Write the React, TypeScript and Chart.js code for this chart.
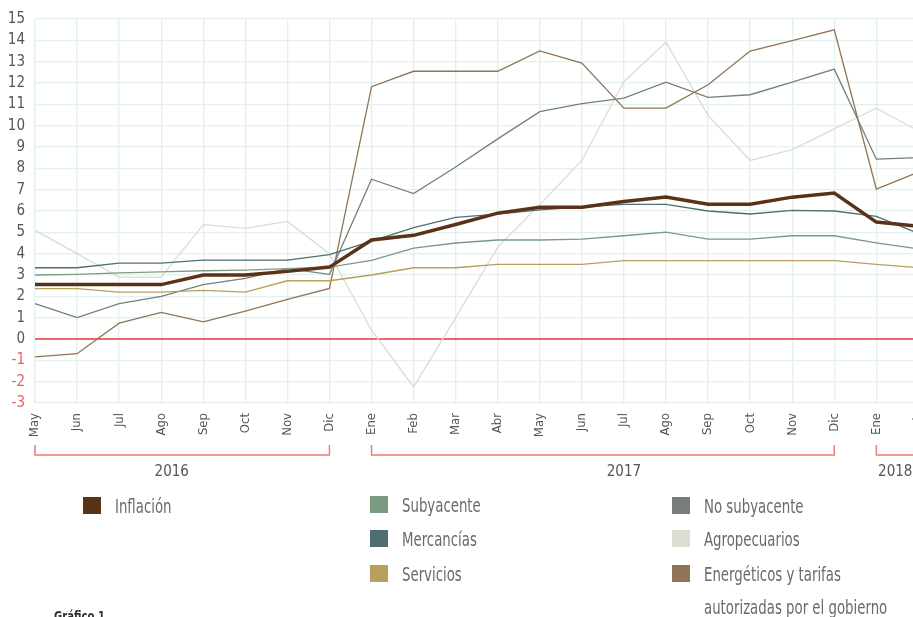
import React, { useEffect, useRef } from "react";
import { Chart, registerables } from "chart.js";

Chart.register(...registerables);

const categories = ["May","Jun","Jul","Ago","Sep","Oct","Nov","Dic","Ene","Feb","Mar","Abr","May","Jun","Jul","Ago","Sep","Oct","Nov","Dic","Ene","Feb"];

const inflacion = [2.55,2.55,2.55,2.55,3.0,3.0,3.17,3.37,4.64,4.86,5.37,5.9,6.18,6.18,6.45,6.65,6.32,6.32,6.65,6.84,5.48,5.28];
const subyacente = [3.0,3.03,3.1,3.15,3.2,3.23,3.3,3.37,3.69,4.26,4.5,4.64,4.64,4.68,4.84,5.01,4.68,4.68,4.84,4.84,4.51,4.22];
const noSubyacente = [1.66,1.0,1.66,2.0,2.55,2.84,3.3,3.03,7.49,6.82,8.06,9.38,10.66,11.03,11.29,12.04,11.33,11.45,12.04,12.65,8.43,8.5];
const mercancias = [3.34,3.34,3.56,3.56,3.7,3.7,3.7,3.95,4.59,5.22,5.7,5.85,6.05,6.2,6.31,6.31,6.0,5.86,6.03,6.0,5.75,4.95];
const agropecuarios = [5.09,4.0,2.9,2.9,5.36,5.19,5.51,4.0,0.41,-2.25,1.0,4.31,6.3,8.37,12.07,13.91,10.48,8.37,8.88,9.85,10.82,9.75];
const servicios = [2.36,2.36,2.2,2.2,2.28,2.2,2.73,2.73,3.0,3.34,3.34,3.5,3.5,3.5,3.67,3.67,3.67,3.67,3.67,3.67,3.5,3.35];
const energeticos = [-0.84,-0.69,0.74,1.25,0.8,1.31,1.86,2.37,11.83,12.55,12.55,12.55,13.5,12.93,10.82,10.82,11.92,13.5,13.99,14.49,7.03,7.82];

const yearLabels = ["2016", "2017", "2018"];
const yearStart = [0, 8, 20];
const yearEnd = [7, 19, 21];

const FONT = "'Liberation Sans Narrow', 'DejaVu Sans Condensed', 'Roboto Condensed', 'Liberation Sans', sans-serif";

const COLORS = {
  inflacion: "#5a3218",
  subyacente: "#7b9a82",
  noSubyacente: "#767e7b",
  mercancias: "#4f6d73",
  agropecuarios: "#d9ddd2",
  servicios: "#b99f5d",
  energeticos: "#8f7556",
};

const yearLabelAt = [3.25, 14, 20.45];

const yearPlugin = {
  id: "yearBrackets",
  afterDraw(chart: any) {
    const { ctx, chartArea, scales } = chart;
    const x = scales.x;
    const yb = chartArea.bottom + 52;
    const yt = yb - 10;
    ctx.save();
    ctx.strokeStyle = "#f27a7a";
    ctx.lineWidth = 1.5;
    yearLabels.forEach((lab, i) => {
      const x0 = x.getPixelForValue(yearStart[i]);
      const x1 = x.getPixelForValue(yearEnd[i]);
      ctx.beginPath();
      ctx.moveTo(x0, yt);
      ctx.lineTo(x0, yb);
      ctx.lineTo(x1, yb);
      ctx.lineTo(x1, yt);
      ctx.stroke();
      ctx.fillStyle = "#555";
      ctx.font = `15px ${FONT}`;
      ctx.textAlign = "center";
      ctx.textBaseline = "middle";
      ctx.fillText(lab, x.getPixelForValue(yearLabelAt[i]), chartArea.bottom + 69);
    });
    ctx.restore();
  },
};

const legendItems = [
  { label: "Inflación", color: COLORS.inflacion, left: 83, top: 497 },
  { label: "Subyacente", color: COLORS.subyacente, left: 370, top: 496 },
  { label: "Mercancías", color: COLORS.mercancias, left: 370, top: 530 },
  { label: "Servicios", color: COLORS.servicios, left: 370, top: 565 },
  { label: "No subyacente", color: COLORS.noSubyacente, left: 672, top: 497 },
  { label: "Agropecuarios", color: COLORS.agropecuarios, left: 672, top: 530 },
  { label: "Energéticos y tarifas\nautorizadas por el gobierno", color: COLORS.energeticos, left: 672, top: 565 },
];

export default function App() {
  const ref = useRef<HTMLCanvasElement>(null);
  useEffect(() => {
    if (!ref.current) return;
    const mk = (label: string, data: number[], color: string, width: number) => ({
      label,
      data,
      borderColor: color,
      backgroundColor: color,
      borderWidth: width,
      pointRadius: 0,
      tension: 0,
      fill: false,
    });
    const chart = new Chart(ref.current, {
      type: "line",
      data: {
        labels: categories,
        datasets: [
          mk("Inflación", inflacion, COLORS.inflacion, 3.5),
          mk("Mercancías", mercancias, COLORS.mercancias, 1.3),
          mk("Subyacente", subyacente, COLORS.subyacente, 1.3),
          mk("Servicios", servicios, COLORS.servicios, 1.3),
          mk("No subyacente", noSubyacente, COLORS.noSubyacente, 1.3),
          mk("Energéticos y tarifas autorizadas por el gobierno", energeticos, COLORS.energeticos, 1.3),
          mk("Agropecuarios", agropecuarios, COLORS.agropecuarios, 1.3),
        ],
      },
      options: {
        animation: false,
        responsive: false,
        devicePixelRatio: 1,
        layout: { padding: { top: 18, left: 0, right: 18, bottom: 174 } },
        plugins: { legend: { display: false }, tooltip: { enabled: false } },
        scales: {
          x: {
            offset: false,
            border: { display: false },
            grid: { color: "#e2f0ef", lineWidth: 1.3, drawTicks: false },
            ticks: {
              autoSkip: false,
              minRotation: 90,
              maxRotation: 90,
              padding: 10,
              color: "#555",
              font: { family: FONT, size: 13 },
            },
            afterFit: (s: any) => { s.height = 40; },
          },
          y: {
            min: -3,
            max: 15,
            border: { display: false },
            grid: {
              drawTicks: false,
              color: (c: any) => (c.tick && c.tick.value === 0 ? "#f26666" : "#e2f0ef"),
              lineWidth: (c: any) => (c.tick && c.tick.value === 0 ? 2 : 1.3),
            },
            ticks: {
              stepSize: 1,
              padding: 10,
              color: (c: any) => (c.tick && c.tick.value < 0 ? "#f25a5a" : "#555"),
              font: { family: FONT, size: 15 },
            },
            afterFit: (s: any) => { s.width = 35; },
          },
        },
      },
      plugins: [yearPlugin],
    });
    return () => chart.destroy();
  }, []);

  return (
    <div style={{ position: "absolute", left: 0, top: 0, width: 913, height: 617, overflow: "hidden", background: "#fff" }}>
      <canvas ref={ref} width={944} height={617} style={{ position: "absolute", left: 0, top: 0, width: 944, height: 617 }} />
      {legendItems.map((it) => (
        <div key={it.label} style={{ position: "absolute", left: it.left, top: it.top }}>
          <div style={{ position: "absolute", left: 0, top: 0, width: 18, height: 17, background: it.color }} />
          <div style={{ position: "absolute", left: 32, top: -7, whiteSpace: "pre", fontFamily: FONT, fontSize: 20, lineHeight: "33px", color: "#6a6a6a", transform: "scaleX(0.74)", transformOrigin: "0 0" }}>
            {it.label}
          </div>
        </div>
      ))}
      <div style={{ position: "absolute", left: 54, top: 608, fontFamily: FONT, fontSize: 14, fontWeight: "bold", color: "#333", transform: "scaleX(0.8)", transformOrigin: "0 0" }}>Gráfico 1</div>
    </div>
  );
}
